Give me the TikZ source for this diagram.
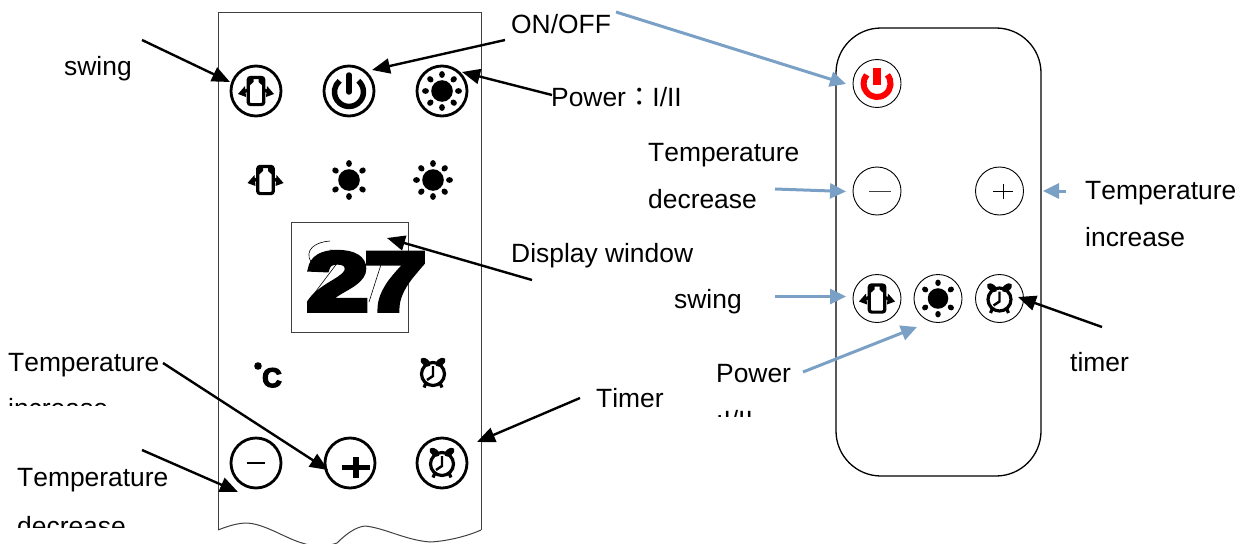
\documentclass[tikz,border=0pt]{standalone}
\usepackage{fontspec}
\setmainfont[Kerning=Off]{Liberation Sans}
\newfontfamily\numfont[BoldFeatures={FakeBold=7,FakeStretch=1.38}]{Liberation Sans}
\newfontfamily\degfont[BoldFeatures={FakeBold=5}]{Liberation Sans}
\newfontfamily\cjkfont{Noto Sans CJK TC}
\usetikzlibrary{arrows.meta}
\definecolor{bluearrow}{HTML}{7BA0C6}
\definecolor{panelgray}{HTML}{404040}
\tikzset{
  lbl/.style={anchor=base west,inner sep=0pt,font=\fontsize{26.4}{26}\selectfont,text=black},
  btnbold/.style={circle,draw=black,line width=2.8pt,minimum size=50pt,inner sep=0pt,outer sep=0pt},
  btnthin/.style={circle,draw=black,line width=0.9pt,minimum size=48pt,inner sep=0pt,outer sep=0pt},
  blackarrow/.style={line width=2.4pt,draw=black,-{Triangle[length=18pt,width=15pt]}},
  bluearr/.style={line width=3pt,draw=bluearrow,-{Triangle[length=16pt,width=15pt]}},
  panel/.style={draw=panelgray,line width=1pt},
  sunA/.pic={
    \fill (0,0) circle (10.8);
    \foreach \a in {90,270,35,145,215,325}{\fill[rotate=\a] (16.5,0) ellipse (3.4 and 2.9);}
  },
  sunB/.pic={
    \fill (0,0) circle (10.8);
    \foreach \a in {0,45,...,315}{\fill[rotate=\a] (16.5,0) ellipse (3.4 and 2.9);}
  },
  swingicon/.pic={
    \draw[line width=3.2pt,rounded corners=2.5pt] (-7.8,-13.6) rectangle (7.8,13.6);
    \fill (-8,-4)--(-2.5,-9)--(-2.5,-14)--(-8,-14)--cycle;
    \fill (8,-4)--(2.5,-9)--(2.5,-14)--(8,-14)--cycle;
    \fill (-18,3)--(-11,-5)--(-10,6)--cycle;
    \fill (18,3)--(11,-5)--(10,6)--cycle;
    \draw[line width=3.2pt] (-13,1)--(-8,-1);
    \draw[line width=3.2pt] (13,1)--(8,-1);
  },
  clockicon/.pic={
    \draw[line width=3.2pt] (0,1) circle (11.5);
    \fill[rotate around={-38:(-7.5,-10.8)}] (-7.5,-10.8) ellipse (5.8 and 3.4);
    \fill[rotate around={38:(7.5,-10.8)}] (7.5,-10.8) ellipse (5.8 and 3.4);
    \draw[line width=3.2pt] (-7,10)--(-9,14.5);
    \draw[line width=3.2pt] (7,10)--(9,14.5);
    \draw[line width=2.4pt] (0,-7)--(0,3)--(-6,7);
  },
  poweric/.pic={
    \draw[line width=5.5pt] (14.5*0.64,-14.5*0.77) arc[start angle=-50,end angle=230,radius=14.5];
    \draw[line width=5.5pt,line cap=round] (0,-17)--(0,0);
  },
  redpower/.pic={
    \draw[red,line width=6pt] (13.5*0.77,-13.5*0.64) arc[start angle=-40,end angle=220,radius=13.5];
    \fill[red] (-4,-15.5) rectangle (4,1.5);
  }
}
\begin{document}
\begin{tikzpicture}[x=1pt,y=-1pt]
\useasboundingbox (0,0) rectangle (1246,543);

% left panel
\begin{scope}
\clip (0,0) rectangle (1246,543);
\draw[panel] (218,530)--(218,13)--(481,13)--(481,530);
\draw[panel] (218,530) .. controls (228,526) and (238,523) .. (247,523)
  .. controls (265,524) and (285,538) .. (302,543)
  .. controls (314,547) and (326,547) .. (337,543)
  .. controls (345,535) and (355,527) .. (365,526)
  .. controls (385,528) and (405,540) .. (430,542)
  .. controls (450,541) and (470,535) .. (481,530);
\end{scope}

% left buttons
\node[btnbold] (lswing) at (256,91) {};
\node[btnbold] (lpower) at (349,91) {};
\node[btnbold] (lsun) at (442,91) {};
\pic at (256,91) {swingicon};
\pic at (349,92) {poweric};
\pic at (442,91) {sunB};
\pic at (265.5,180) {swingicon};
\pic at (349,180) {sunA};
\pic at (433,180) {sunB};

% display
\node[draw=panelgray,line width=1pt,minimum width=117pt,minimum height=110pt,inner sep=0pt] (display) at (349.5,277) {};
\draw[line width=0.6pt] (307,303) -- (338,262) .. controls (342,254) and (338,250) .. (330,250);
\draw[line width=0.6pt] (311,262) .. controls (304,250) and (315,242) .. (330,241);
\draw[line width=0.6pt] (369,302) -- (385,252);
\node[anchor=base west,inner sep=0pt,font=\numfont\bfseries\fontsize{82}{82}\selectfont] (num) at (306,310) {2\kern-5pt 7};

% lower left icons
\fill (258,366) circle (3.8);
\node[anchor=base west,inner sep=0pt,font=\degfont\bfseries\fontsize{27}{27}\selectfont] (degc) at (262,387) {C};
\pic at (433,373) {clockicon};
\node[btnbold] (lminus) at (256,463) {};
\node[btnbold] (lplus) at (350,463) {};
\node[btnbold] (ltimer) at (442,463) {};
\draw[line width=2pt] (247,462.7)--(265,462.7);
\draw[line width=5.5pt] (342,467.5)--(370,467.5);
\draw[line width=5.5pt] (356,457)--(356,478);
\pic at (442,463) {clockicon};

% right panel
\draw[draw=black,line width=1.3pt,rounded corners=45pt] (836,28) rectangle (1041,476);
\node[btnthin] (rpower) at (877,83.5) {};
\node[btnthin] (rminus) at (877,191) {};
\node[btnthin] (rplus) at (999.5,191) {};
\node[btnthin] (rswing) at (877,298.5) {};
\node[btnthin] (rsun) at (938,298.5) {};
\node[btnthin] (rtimer) at (999.5,298.5) {};
\pic at (877,83.5) {redpower};
\draw[line width=0.8pt,panelgray] (869,191)--(891,191);
\draw[line width=1pt] (993,191.5)--(1013,191.5);
\draw[line width=1pt] (1003,184)--(1003,199);
\pic at (877,298.5) {swingicon};
\pic[scale=0.95] at (938,298.5) {sunA};
\pic at (999.5,298.5) {clockicon};

% labels
\node[lbl] (tswing) at (64,75) {swing};
\node[lbl] (tonoff) at (511,34) {ON/OFF};
\node[lbl] (tpower) at (551,106) {Power{\cjkfont ：}I/II};
\node[lbl] (tdisplay) at (511,262) {Display window};
\node[lbl] (ttempi) at (8,371) {Temperature};
\begin{scope}
\clip (0,395) rectangle (200,405);
\node[lbl] (tinc) at (8,417) {increase};
\end{scope}
\node[lbl] (ttempd) at (17,486) {Temperature};
\begin{scope}
\clip (0,500) rectangle (200,527);
\node[lbl] (tdec) at (17,535.5) {decrease};
\end{scope}
\node[lbl] (ttimer) at (596,407) {Timer};
\node[lbl] (rtempd) at (648,161) {Temperature};
\node[lbl] (rdec) at (648,208) {decrease};
\node[lbl] (rtempi) at (1085,199) {Temperature};
\node[lbl] (rinc) at (1085,246) {increase};
\node[lbl] (rtswing) at (674,308) {swing};
\node[lbl] (rtpower) at (716,382) {Power};
\begin{scope}
\clip (700,400) rectangle (800,416.7);
\node[lbl] (rtii) at (716,429) {:I/II};
\end{scope}
\node[lbl] (rttimer) at (1070,371) {timer};

% connector ends
\coordinate (a1) at (142,40);   \coordinate (b1) at (230,82);
\coordinate (a2) at (505,40);   \coordinate (b2) at (372,70);
\coordinate (a3) at (552,95);   \coordinate (b3) at (462,72);
\coordinate (a4) at (532,280);  \coordinate (b4) at (387,238);
\coordinate (a5) at (163,363);  \coordinate (b5) at (328,470);
\coordinate (a6) at (142,450);  \coordinate (b6) at (238,492);
\coordinate (a7) at (580,398);  \coordinate (b7) at (477,442);
\coordinate (a8) at (1102,327); \coordinate (b8) at (1018,297);
\coordinate (c1) at (616,12);   \coordinate (d1) at (846,84);
\coordinate (c2) at (775,189);  \coordinate (d2) at (846,191.5);
\coordinate (c3) at (1066,191); \coordinate (d3) at (1043,191);
\coordinate (c4) at (775,296.5);\coordinate (d4) at (846,296.5);
\coordinate (c5) at (803,372);  \coordinate (d5) at (917,327);

\draw[blackarrow] (a1)--(b1);
\draw[blackarrow] (a2)--(b2);
\draw[blackarrow] (a3)--(b3);
\draw[blackarrow] (a4)--(b4);
\draw[blackarrow] (a5)--(b5);
\draw[blackarrow] (a6)--(b6);
\draw[blackarrow] (a7)--(b7);
\draw[blackarrow] (a8)--(b8);
\draw[bluearr] (c1)--(d1);
\draw[bluearr] (c2)--(d2);
\draw[bluearr] (c3)--(d3);
\draw[bluearr] (c4)--(d4);
\draw[bluearr] (c5)--(d5);
\end{tikzpicture}
\end{document}
